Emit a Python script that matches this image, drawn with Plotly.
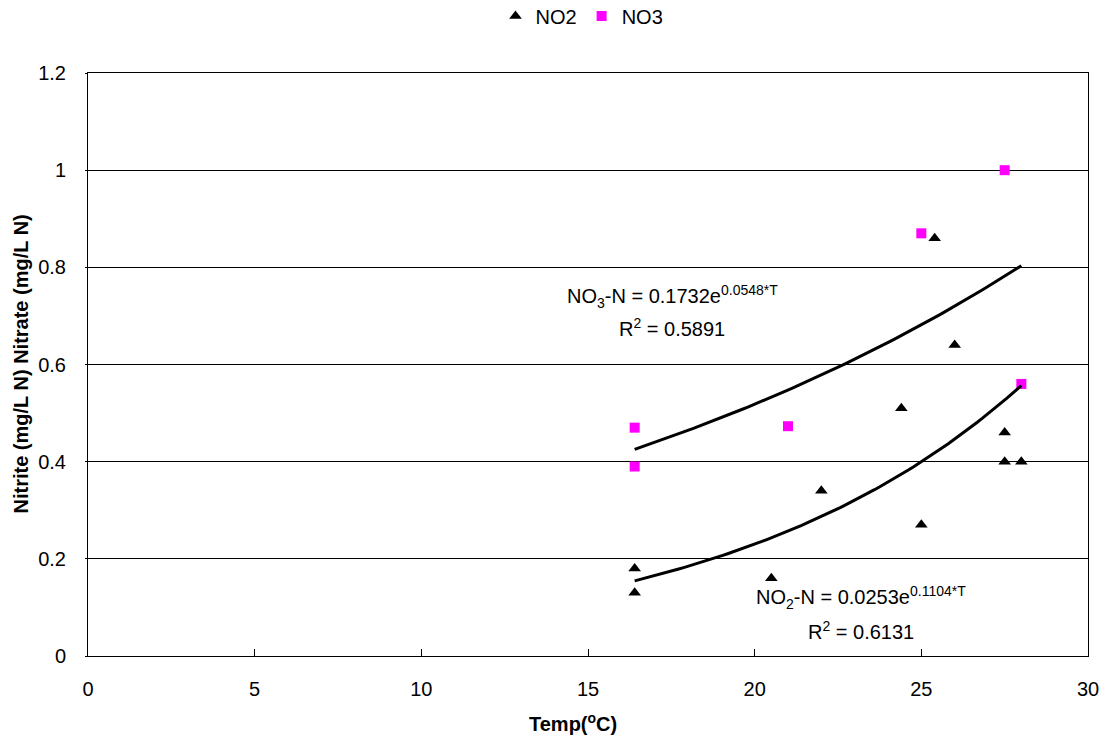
import numpy as np
import plotly.graph_objects as go

# Data
no2_temp = [16.4, 16.4, 20.5, 22.0, 24.4, 25.0, 25.4, 26.0, 27.5, 27.5, 28.0]
no2_val = [0.18, 0.13, 0.16, 0.34, 0.51, 0.27, 0.86, 0.64, 0.46, 0.40, 0.40]
no3_temp = [16.4, 16.4, 21.0, 25.0, 27.5, 28.0]
no3_val = [0.47, 0.39, 0.473, 0.87, 1.00, 0.56]

# Exponential trendline coefficients shown on the chart
no3_a, no3_b = 0.1732, 0.0548
no2_a, no2_b = 0.0253, 0.1104
trend_range = [16.4, 28.0]

x_ticks = [0, 5, 10, 15, 20, 25, 30]
y_ticks = [0, 0.2, 0.4, 0.6, 0.8, 1.0, 1.2]
y_tick_labels = ["0", "0.2", "0.4", "0.6", "0.8", "1", "1.2"]

font_family = "Liberation Sans, Arial, sans-serif"
FS = 20

tt = np.linspace(trend_range[0], trend_range[1], 80)

fig = go.Figure()
fig.add_trace(go.Scatter(
    x=no2_temp, y=no2_val, mode="markers", name="NO2",
    marker=dict(symbol="triangle-up", color="black", size=11),
))
fig.add_trace(go.Scatter(
    x=no3_temp, y=no3_val, mode="markers", name="NO3",
    marker=dict(symbol="square", color="#FF00FF", size=10),
))
fig.add_trace(go.Scatter(
    x=tt, y=no3_a * np.exp(no3_b * tt), mode="lines", showlegend=False,
    line=dict(color="black", width=3), hoverinfo="skip",
))
fig.add_trace(go.Scatter(
    x=tt, y=no2_a * np.exp(no2_b * tt), mode="lines", showlegend=False,
    line=dict(color="black", width=3), hoverinfo="skip",
))

ann_font = dict(family=font_family, size=FS, color="black")
fig.add_annotation(x=17.52, y=0.739, xref="x", yref="y", showarrow=False,
                   text=f"NO<sub>3</sub>-N = {no3_a}e<sup>{no3_b}*T</sup>", font=ann_font)
fig.add_annotation(x=17.52, y=0.677, xref="x", yref="y", showarrow=False,
                   text="R<sup>2</sup> = 0.5891", font=ann_font)
fig.add_annotation(x=23.19, y=0.121, xref="x", yref="y", showarrow=False,
                   text=f"NO<sub>2</sub>-N = {no2_a}e<sup>{no2_b}*T</sup>", font=ann_font)
fig.add_annotation(x=23.19, y=0.0535, xref="x", yref="y", showarrow=False,
                   text="R<sup>2</sup> = 0.6131", font=ann_font)

# Axis titles
fig.add_annotation(x=0.485, y=0, xref="paper", yref="paper", yshift=-66,
                   showarrow=False, yanchor="middle",
                   text="<b>Temp(<sup>o</sup>C)</b>", font=ann_font)
fig.add_annotation(x=0, y=0.5, xref="paper", yref="paper", xshift=-68,
                   showarrow=False, xanchor="center", textangle=-90,
                   text="<b>Nitrite (mg/L N) Nitrate (mg/L N)</b>", font=ann_font)

fig.update_layout(
    width=1104, height=738,
    margin=dict(l=88, r=16, t=73, b=82, autoexpand=False),
    paper_bgcolor="white", plot_bgcolor="white",
    font=dict(family=font_family, size=FS, color="black"),
    showlegend=True,
    legend=dict(orientation="h", x=0.494, xanchor="center",
                yref="container", y=1 - 16 / 738, yanchor="middle",
                font=dict(size=FS), itemwidth=30, tracegroupgap=0),
    xaxis=dict(
        range=[0, 30], tickvals=x_ticks, showgrid=False, zeroline=False,
        showline=True, linecolor="black", linewidth=1, mirror=True,
        ticks="inside", ticklen=7, tickcolor="black", ticklabelstandoff=15,
    ),
    yaxis=dict(
        range=[0, 1.2], tickvals=y_ticks, ticktext=y_tick_labels,
        showgrid=True, gridcolor="black", gridwidth=1, zeroline=False,
        showline=True, linecolor="black", linewidth=1, mirror=True,
        ticks="outside", ticklen=2, tickcolor="black", ticklabelstandoff=15,
    ),
)

fig.write_html("out.html", config={"displayModeBar": False},
               post_script="document.body.style.margin='0';")
